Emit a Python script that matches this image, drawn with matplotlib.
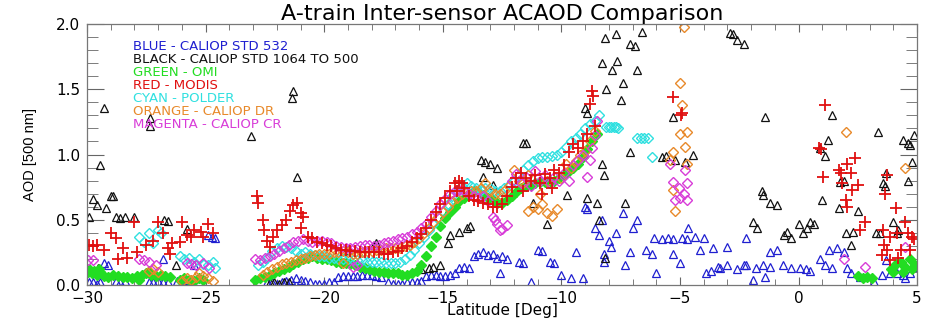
import matplotlib
matplotlib.use("Agg")
import matplotlib.pyplot as plt
from matplotlib.ticker import MultipleLocator

# ---- data (latitude [deg], AOD) ----
blue_lat = [-29.9, -29.75, -29.6, -29.45, -29.3, -29.1, -28.8, -28.6, -28.4, -27.4, -27.2, -27.0,
            -26.8, -26.8, -26.6, -26.2, -26.0, -25.8, -25.6, -25.5, -24.9, -24.75, -24.6,
            -22.4, -22.2, -22.0, -21.8, -21.6, -21.4, -21.2, -21.0, -20.8, -20.6, -20.4, -20.2,
            -20.0, -19.8, -19.6, -19.4, -19.2, -19.0, -18.8, -18.6, -18.4, -18.2, -18.0, -17.8,
            -17.6, -17.3, -17.1, -16.9, -16.7, -16.5, -16.3, -16.1, -15.9, -15.7, -15.5, -15.3,
            -15.1, -14.9, -14.7, -14.5, -14.3, -14.1, -13.9, -13.7, -13.5, -13.3, -13.1, -12.9,
            -12.7, -12.5, -12.3, -12.6, -11.8, -11.6, -11.3, -11.0, -10.8, -10.5, -10.3, -10.0,
            -9.6, -9.4, -9.1, -9.0, -8.9, -8.6, -8.4, -8.3, -8.2, -8.2, -8.0, -7.9, -7.7, -7.4,
            -7.3, -7.1, -7.0, -6.8, -6.45, -6.2, -6.1, -6.0, -5.75, -5.5, -5.3, -5.3, -5.0, -4.9,
            -4.7, -4.65, -4.35, -4.15, -4.0, -3.9, -3.7, -3.6, -3.4, -3.3, -3.0, -3.0, -2.6, -2.3,
            -2.2, -2.2, -1.9, -1.8, -1.5, -1.4, -1.2, -1.2, -0.9, -0.65, -0.3, 0.05, 0.3, 0.5,
            0.9, 1.1, 1.3, 1.4, 1.6, 1.9, 2.05, 2.2, 2.6, 3.2, 3.5, 3.7, 3.85, 4.15, 4.4, 4.5,
            4.7, 4.9]
blue_aod = [0.02, 0.02, 0.01, 0.02, 0.17, 0.15, 0.03, 0.02, 0.03, 0.02, 0.02, 0.03,
            0.20, 0.02, 0.02, 0.03, 0.02, 0.04, 0.02, 0.15, 0.38, 0.37, 0.36,
            0.02, 0.02, 0.01, 0.02, 0.03, 0.04, 0.05, 0.04, 0.03, 0.02, 0.01, 0.01,
            0.01, 0.02, 0.02, 0.06, 0.07, 0.07, 0.07, 0.07, 0.08, 0.08, 0.08, 0.07,
            0.06, 0.02, 0.01, 0.01, 0.01, 0.02, 0.02, 0.02, 0.03, 0.07, 0.08, 0.08,
            0.07, 0.07, 0.08, 0.09, 0.13, 0.14, 0.13, 0.22, 0.24, 0.25, 0.23, 0.24,
            0.21, 0.22, 0.20, 0.09, 0.18, 0.17, 0.02, 0.27, 0.26, 0.18, 0.17, 0.08,
            0.05, 0.25, 0.05, 0.60, 0.58, 0.44, 0.38, 0.50, 0.24, 0.18, 0.34, 0.29, 0.40, 0.55,
            0.15, 0.25, 0.44, 0.50, 0.27, 0.24, 0.36, 0.09, 0.35, 0.36, 0.35, 0.24, 0.17, 0.36,
            0.35, 0.44, 0.37, 0.27, 0.36, 0.09, 0.11, 0.28, 0.14, 0.13, 0.29, 0.15, 0.12, 0.15,
            0.36, 0.15, 0.04, 0.13, 0.15, 0.06, 0.25, 0.14, 0.27, 0.15, 0.13, 0.13, 0.12, 0.11,
            0.20, 0.15, 0.27, 0.13, 0.28, 0.25, 0.13, 0.09, 0.06, 0.02, 0.08, 0.19, 0.09, 0.09,
            0.08, 0.05, 0.09, 0.14]

black_lat = [-29.9, -29.75, -29.6, -29.45, -29.3, -29.2, -29.0, -28.9, -28.8, -28.6, -28.4, -28.0,
             -27.35, -27.35, -26.75, -26.6, -25.8, -26.25, -29.55, -23.1, -21.3, -21.35, -21.15,
             -22.3, -22.1, -21.9, -21.7, -21.5, -19.0, -17.9, -17.8, -15.9, -15.6, -15.4, -15.1,
             -14.8, -14.7, -14.3, -14.0, -13.85, -13.4, -13.2, -13.0, -12.7, -13.3, -12.9, -11.5,
             -11.6, -11.2, -10.6, -9.75, -9.0, -8.9, -8.9, -8.5, -8.3, -8.2, -8.15, -8.15, -7.7,
             -6.6, -7.1, -6.9, -8.3, -7.65, -7.85, -6.8, -7.4, -8.1, -7.5, -5.3, -7.1, -5.75,
             -5.6, -5.2, -4.8, -4.45, -7.3, -8.4, -2.9, -2.75, -2.6, -2.3, -1.9, -1.75, -1.4,
             1.4, 1.25, 1.1, 0.9, 3.35, 1.9, 1.75, -1.5, -1.2, -0.9, -1.55, 1.0, 1.7, 2.5,
             -0.5, -0.3, -0.6, 0.0, 0.2, 0.35, 0.5, 0.65, 2.0, 2.2, 2.3, 3.7, 3.55, 3.65, 4.0,
             3.25, 3.45, 4.15, 4.2, 4.4, 4.6, 4.7, 4.85, 4.6, 4.8]
black_aod = [0.52, 0.66, 0.61, 0.92, 1.36, 0.59, 0.68, 0.68, 0.52, 0.51, 0.52, 0.52,
             1.28, 1.22, 0.50, 0.49, 0.43, 0.15, 0.13, 1.14, 1.49, 1.43, 0.83,
             0.02, 0.02, 0.01, 0.02, 0.02, 0.27, 0.31, 0.32, 0.12, 0.13, 0.14, 0.15,
             0.32, 0.38, 0.41, 0.44, 0.45, 0.96, 0.94, 0.93, 0.90, 0.83, 0.77, 1.09,
             1.09, 0.63, 0.47, 0.69, 1.36, 1.32, 0.67, 0.63, 0.93, 0.84, 0.21, 1.89, 1.92,
             1.94, 1.85, 1.83, 1.70, 1.72, 1.65, 1.65, 1.55, 1.50, 1.42, 1.29, 1.02, 0.98,
             0.99, 0.96, 0.94, 1.00, 0.63, 0.50, 1.93, 1.92, 1.88, 1.85, 0.48, 0.44, 1.29,
             1.30, 1.11, 0.99, 1.05, 1.17, 0.80, 0.79, 0.69, 0.63, 0.61, 0.72, 0.65, 0.59, 0.57,
             0.41, 0.36, 0.38, 0.47, 0.40, 0.44, 0.48, 0.47, 0.40, 0.31, 0.41, 0.86, 0.78, 0.76, 0.48,
             0.40, 0.40, 0.40, 0.42, 1.11, 1.09, 1.07, 1.15, 0.80, 0.94]

green_lat = [-29.95, -29.9, -29.8, -29.7, -29.6, -29.5, -29.45, -29.3, -29.1, -28.9, -28.7, -28.5,
             -28.3, -28.1, -27.9, -27.8, -27.7, -27.5, -27.4, -27.3, -27.1, -26.9, -26.7, -26.5,
             -26.1, -25.9, -25.7, -25.5, -25.3, -25.1,
             -22.9, -22.7, -22.5, -22.3, -22.1, -21.9, -21.7, -21.5, -21.3, -21.1, -20.9, -20.7,
             -20.5, -20.3, -20.1, -19.9, -19.7, -19.5, -19.3, -19.1, -18.9, -18.7, -18.5, -18.3,
             -18.1, -17.9, -17.7, -17.5, -17.3, -17.1, -16.9, -16.7, -16.5, -16.3, -16.1, -15.9,
             -15.7, -15.5, -15.3, -15.1, -14.9, -14.7, -14.5, -14.3, -14.1, -13.9, -13.7, -13.5,
             -13.3, -13.1, -12.9, -12.7, -12.5, -12.3, -12.1, -11.9, -11.7, -11.5, -11.3, -11.1,
             -10.9, -10.7, -10.5, -10.3, -10.1, -9.9, -9.7, -9.5, -9.3, -9.1, -8.9, -8.7, -8.5,
             2.5, 2.7, 2.9, 3.1, 3.9, 4.0, 4.1, 4.3, 4.4, 4.5, 4.7, 4.8, 4.9]
green_aod = [0.10, 0.12, 0.09, 0.11, 0.08, 0.12, 0.10, 0.07, 0.06, 0.08, 0.07, 0.06,
             0.06, 0.05, 0.07, 0.04, 0.08, 0.09, 0.10, 0.08, 0.07, 0.08, 0.07, 0.06,
             0.04, 0.05, 0.04, 0.03, 0.05, 0.04,
             0.04, 0.05, 0.06, 0.08, 0.09, 0.11, 0.12, 0.14, 0.16, 0.18, 0.20, 0.21,
             0.22, 0.21, 0.20, 0.20, 0.19, 0.18, 0.17, 0.17, 0.16, 0.15, 0.14, 0.13,
             0.12, 0.11, 0.10, 0.10, 0.09, 0.09, 0.09, 0.08, 0.08, 0.09, 0.11, 0.15,
             0.22, 0.30, 0.37, 0.45, 0.51, 0.56, 0.60, 0.64, 0.67, 0.70, 0.72, 0.71,
             0.69, 0.67, 0.65, 0.63, 0.63, 0.65, 0.68, 0.71, 0.74, 0.76, 0.77, 0.78,
             0.79, 0.79, 0.80, 0.80, 0.82, 0.84, 0.87, 0.90, 0.93, 0.98, 1.04, 1.10, 1.16,
             0.07, 0.05, 0.06, 0.05, 0.12, 0.10, 0.16, 0.18, 0.10, 0.14, 0.20, 0.12, 0.15]

red_lat = [-29.9, -29.75, -29.6, -29.3, -29.0, -28.8, -28.7, -28.5, -28.3, -28.0, -27.9, -27.5,
           -27.2, -27.0, -26.8, -26.6, -26.5, -26.4, -26.1, -26.0, -25.8, -25.6, -25.5, -25.2,
           -25.1, -24.9, -24.7,
           -22.85, -22.8, -22.6, -22.55, -22.4, -22.3, -22.15, -22.0, -21.8, -21.6, -21.45,
           -21.3, -21.15, -21.0, -20.9, -21.0, -20.7,
           -20.5, -20.3, -20.1, -19.9, -19.7, -19.5, -19.3, -19.1, -18.9, -18.7, -18.5, -18.3,
           -18.1, -17.9, -17.7, -17.5, -17.3, -17.1, -16.9, -16.7, -16.5, -16.3, -16.1, -15.9,
           -15.7, -15.5, -15.3, -15.1, -14.9, -14.7, -14.5, -14.4, -14.3, -14.2, -14.1, -13.9,
           -13.7, -13.5, -13.3, -13.1, -12.9, -12.7, -12.5, -12.3, -12.1, -11.9, -11.7, -11.6,
           -11.5, -11.3, -11.1, -10.9, -10.8, -10.7, -10.5, -10.4, -10.3, -10.1, -9.9, -9.7,
           -9.5, -9.3, -9.1, -8.9, -8.8, -8.7, -8.65, -8.6,
           -5.3, -4.9, -4.95,
           1.1, 0.85, 0.95, 1.05, 1.7, 1.8, 2.05, 2.4, 2.2, 1.85, 2.5, 2.25, 2.0, 2.05, 2.8,
           2.6, 3.75, 3.65, 4.1, 3.55, 3.6, 3.75, 3.85, 4.15, 4.5, 4.6, 4.8, 4.85, 4.7, 4.3,
           4.2, 3.85, 3.5]
red_aod = [0.31, 0.30, 0.31, 0.27, 0.40, 0.36, 0.20, 0.28, 0.21, 0.48, 0.25, 0.31,
           0.34, 0.48, 0.40, 0.28, 0.24, 0.32, 0.33, 0.48, 0.38, 0.37, 0.42, 0.41,
           0.37, 0.47, 0.40,
           0.68, 0.63, 0.50, 0.42, 0.34, 0.29, 0.37, 0.42, 0.46, 0.50, 0.57,
           0.61, 0.63, 0.55, 0.52, 0.44, 0.37,
           0.36, 0.33, 0.32, 0.31, 0.30, 0.28, 0.27, 0.27, 0.26, 0.26, 0.25, 0.25,
           0.25, 0.25, 0.25, 0.24, 0.24, 0.25, 0.26, 0.28, 0.30, 0.33, 0.36, 0.39,
           0.44, 0.50, 0.56, 0.62, 0.67, 0.72, 0.78, 0.72, 0.80, 0.78, 0.74, 0.68,
           0.65, 0.64, 0.63, 0.62, 0.60, 0.60, 0.62, 0.68, 0.75, 0.82, 0.86, 0.72,
           0.82, 0.80, 0.84, 0.78, 0.70, 0.85, 0.82, 0.74, 0.88, 0.86, 0.92, 1.02,
           1.08, 1.05, 1.10, 1.16, 1.39, 1.49, 1.45, 1.22,
           1.44, 1.32, 1.30,
           1.38, 1.05, 1.04, 0.83, 0.88, 0.86, 0.93, 0.97, 0.86, 0.78, 0.77, 0.73, 0.65, 0.60, 0.48,
           0.42, 0.84, 0.70, 0.59, 0.42, 0.31, 0.27, 0.37, 0.40, 0.48, 0.40, 0.37, 0.35, 0.27, 0.27,
           0.21, 0.19, 0.23]

cyan_lat = [-27.8, -27.6, -27.4, -27.2, -27.0, -26.9, -26.1, -25.9, -25.7, -25.5, -25.3, -25.1,
            -24.9, -24.7, -24.6,
            -22.8, -22.6, -22.4, -22.2, -22.0, -21.8, -21.6, -21.4, -21.2, -21.0, -20.8, -20.6,
            -20.4, -20.2, -20.0, -19.8, -19.6, -19.4, -19.2, -19.0, -18.8, -18.6, -18.4, -18.2,
            -18.0, -17.8, -17.6, -17.4, -17.2, -17.0, -16.8, -16.6, -16.4, -16.2, -16.0, -15.8,
            -15.6, -15.4, -15.2, -15.0, -14.8, -14.6, -14.4, -14.2, -14.0, -13.8, -13.6, -13.4,
            -13.2, -13.0, -12.8, -12.6, -12.4, -12.2, -12.0, -11.8, -11.6, -11.4, -11.2, -11.0,
            -10.8, -10.6, -10.4, -10.2, -10.0, -9.8, -9.6, -9.4, -9.2, -9.0, -8.8, -8.6, -8.4,
            -8.1, -8.0, -7.9, -7.8, -7.7, -7.6, -6.8, -6.65, -6.5, -6.35, -6.2]
cyan_aod = [0.37, 0.33, 0.40, 0.32, 0.42, 0.40, 0.22, 0.20, 0.21, 0.18, 0.20, 0.16,
            0.15, 0.18, 0.13,
            0.15, 0.18, 0.21, 0.26, 0.28, 0.30, 0.29, 0.28, 0.26, 0.24, 0.25, 0.24,
            0.23, 0.22, 0.22, 0.21, 0.21, 0.20, 0.20, 0.20, 0.19, 0.19, 0.19, 0.18,
            0.18, 0.18, 0.18, 0.17, 0.17, 0.17, 0.18, 0.20, 0.23, 0.27, 0.32, 0.37,
            0.42, 0.47, 0.52, 0.57, 0.62, 0.68, 0.72, 0.76, 0.78, 0.76, 0.74, 0.73,
            0.74, 0.74, 0.72, 0.72, 0.74, 0.77, 0.80, 0.84, 0.88, 0.92, 0.95, 0.97,
            0.98, 0.98, 0.99, 1.00, 1.02, 1.06, 1.10, 1.13, 1.16, 1.20, 1.23, 1.26, 1.30,
            1.21, 1.21, 1.21, 1.21, 1.21, 1.20, 1.13, 1.13, 1.13, 1.13, 0.98]

orange_lat = [-27.4, -27.2, -27.0, -26.0, -25.8, -25.6, -25.4, -25.3, -25.1, -24.9, -24.7,
              -22.6, -22.4, -22.2, -22.0, -21.8, -21.6, -21.4, -21.2, -21.0, -20.8, -20.6, -20.4,
              -20.2, -20.0, -19.8, -19.6, -19.4, -19.2, -19.2, -19.0, -18.8, -18.6, -18.4, -18.2,
              -18.0, -17.8, -17.6, -17.4, -17.2, -17.0, -16.8, -16.6, -16.4, -16.2, -16.0, -15.8,
              -15.6, -15.4, -15.2, -15.0, -14.8, -14.6, -14.4, -14.2, -14.0, -13.8, -13.6, -13.4,
              -13.2, -13.0, -12.8, -12.6, -12.4, -12.2, -12.0, -11.8, -11.6, -11.4, -11.4, -11.2,
              -11.0, -10.9, -10.8, -10.6, -10.6, -10.4, -10.2, -10.0, -9.8, -9.6, -9.4, -9.2,
              -9.0, -8.8, -8.6,
              -4.85, -5.0, -4.9, -5.0, -4.7, -4.8, -5.3, -5.4, -5.3, -5.2, -4.7,
              2.0, 4.5]
orange_aod = [0.11, 0.12, 0.10, 0.03, 0.05, 0.04, 0.06, 0.09, 0.07, 0.05, 0.03,
              0.08, 0.10, 0.12, 0.14, 0.16, 0.17, 0.18, 0.19, 0.20, 0.21, 0.22, 0.23,
              0.24, 0.24, 0.24, 0.25, 0.25, 0.26, 0.17, 0.25, 0.24, 0.24, 0.25, 0.26,
              0.26, 0.27, 0.27, 0.28, 0.28, 0.28, 0.28, 0.30, 0.31, 0.33, 0.36, 0.40,
              0.44, 0.48, 0.52, 0.56, 0.60, 0.64, 0.67, 0.70, 0.71, 0.72, 0.72, 0.74,
              0.78, 0.72, 0.70, 0.70, 0.72, 0.76, 0.88, 0.80, 0.78, 0.57, 0.84, 0.60,
              0.58, 0.70, 0.62, 0.55, 0.80, 0.53, 0.58, 0.82, 0.93, 0.90, 0.95, 1.00,
              1.03, 1.10, 1.18,
              1.98, 1.55, 1.38, 1.16, 1.17, 1.06, 1.02, 0.96, 0.73, 0.57, 0.93,
              1.17, 0.90]

magenta_lat = [-29.95, -29.75, -27.8, -27.6, -27.4, -27.1, -25.8, -25.6, -25.4, -25.1, -24.85,
               -22.9, -22.7, -22.5, -22.3, -22.1, -21.9, -21.7, -21.5, -21.3, -21.1, -20.9, -20.7,
               -20.5, -20.3, -20.1, -19.9, -19.7, -19.5, -19.3, -19.1, -18.9, -18.7, -18.5, -18.3,
               -18.1, -17.9, -17.7, -17.5, -17.3, -17.1, -16.9, -16.7, -16.5, -16.3, -16.1, -15.9,
               -15.7, -15.5, -15.3, -15.1, -14.9, -14.7, -14.5, -14.3, -14.1, -13.9, -13.7, -13.5,
               -13.3, -13.1, -12.9, -12.8, -12.7, -12.6, -12.5, -12.3, -12.1, -11.9, -11.7, -11.5,
               -11.3, -11.1, -10.9, -10.7, -10.5, -10.3, -10.1, -9.9, -9.7, -9.5, -9.3, -9.1,
               -8.9, -8.8, -8.7, -8.6, -8.5, -18.8, -18.6,
               -5.4, -4.8, -5.3, -4.7, -5.05, -4.85, -5.2, -5.0, -4.7,
               1.9, 2.8, 4.5]
magenta_aod = [0.19, 0.19, 0.20, 0.19, 0.18, 0.15, 0.17, 0.16, 0.15, 0.17, 0.13,
               0.20, 0.19, 0.21, 0.22, 0.24, 0.26, 0.28, 0.31, 0.33, 0.34, 0.35, 0.34,
               0.33, 0.34, 0.34, 0.33, 0.32, 0.30, 0.29, 0.28, 0.28, 0.29, 0.30, 0.31,
               0.31, 0.30, 0.31, 0.32, 0.33, 0.34, 0.35, 0.36, 0.37, 0.39, 0.41, 0.44,
               0.47, 0.52, 0.57, 0.62, 0.66, 0.70, 0.72, 0.73, 0.72, 0.70, 0.68, 0.67,
               0.68, 0.64, 0.52, 0.50, 0.47, 0.42, 0.43, 0.46, 0.80, 0.85, 0.78, 0.83,
               0.76, 0.87, 0.80, 0.84, 0.78, 0.83, 0.80, 0.86, 0.80, 0.92, 0.96, 1.00,
               0.83, 0.96, 1.05, 1.15, 1.26, 0.14, 0.15,
               0.93, 0.88, 0.79, 0.78, 0.74, 0.70, 0.65, 0.67, 0.65,
               0.20, 0.14, 0.29]

legend_lines = ["BLUE - CALIOP STD 532", "BLACK - CALIOP STD 1064 TO 500", "GREEN - OMI",
                "RED - MODIS", "CYAN - POLDER", "ORANGE - CALIOP DR", "MAGENTA - CALIOP CR"]

BLUE = "#1f1fd0"
BLACK = "#111111"
GREEN = "#22dd22"
RED = "#e01010"
CYAN = "#30e0e0"
ORANGE = "#e8892a"
MAGENTA = "#d83cd8"
legend_colors = [BLUE, BLACK, GREEN, RED, CYAN, ORANGE, MAGENTA]

plt.rcParams['font.family'] = ['DejaVu Sans']

fig = plt.figure(figsize=(9.33, 3.23), dpi=100)
ax = fig.add_axes([0.0933, 0.1176, 0.8897, 0.8081])

tri = dict(linestyle="none", marker="^", markersize=5.5, fillstyle="none", markeredgewidth=0.9)
dia = dict(linestyle="none", marker="D", markersize=5, fillstyle="none", markeredgewidth=1.0)

ax.plot(blue_lat, blue_aod, color=BLUE, **tri)
ax.plot(black_lat, black_aod, color=BLACK, **tri)
ax.plot(green_lat, green_aod, color=GREEN, linestyle="none", marker="D", markersize=5.5,
        markeredgewidth=1.0)
ax.plot(cyan_lat, cyan_aod, color=CYAN, **dia)
ax.plot(orange_lat, orange_aod, color=ORANGE, **dia)
ax.plot(magenta_lat, magenta_aod, color=MAGENTA, **dia)
ax.plot(red_lat, red_aod, color=RED, linestyle="none", marker="+", markersize=8,
        markeredgewidth=1.3)

ax.set_xlim(-30, 5)
ax.set_ylim(0, 2.0)
ax.xaxis.set_major_locator(MultipleLocator(5))
ax.xaxis.set_minor_locator(MultipleLocator(1))
ax.yaxis.set_major_locator(MultipleLocator(0.5))
ax.yaxis.set_minor_locator(MultipleLocator(0.1))
ax.yaxis.set_major_formatter(matplotlib.ticker.FormatStrFormatter("%.1f"))
ax.tick_params(which="both", direction="in", top=True, right=True, labelsize=11,
               color="#666666")
ax.tick_params(axis="y", which="major", length=12, pad=5)
ax.tick_params(axis="y", which="minor", length=8)
ax.tick_params(axis="x", which="major", length=6, pad=4)
ax.tick_params(axis="x", which="minor", length=4)
for s in ax.spines.values():
    s.set_color("#777777")
    s.set_linewidth(0.9)

ax.set_title("A-train Inter-sensor ACAOD Comparison", fontsize=16, pad=2)
ax.set_xlabel("Latitude [Deg]", fontsize=11, labelpad=-2)
ax.set_ylabel("AOD [500 nm]", fontsize=10.5, labelpad=14, family="Liberation Sans")

for i, (txt, col) in enumerate(zip(legend_lines, legend_colors)):
    ax.text(-28.05, 1.83 - i * 0.1, txt, color=col, fontsize=9.5, va="center", ha="left",
            zorder=5)

fig.savefig("out.png", dpi=100)
